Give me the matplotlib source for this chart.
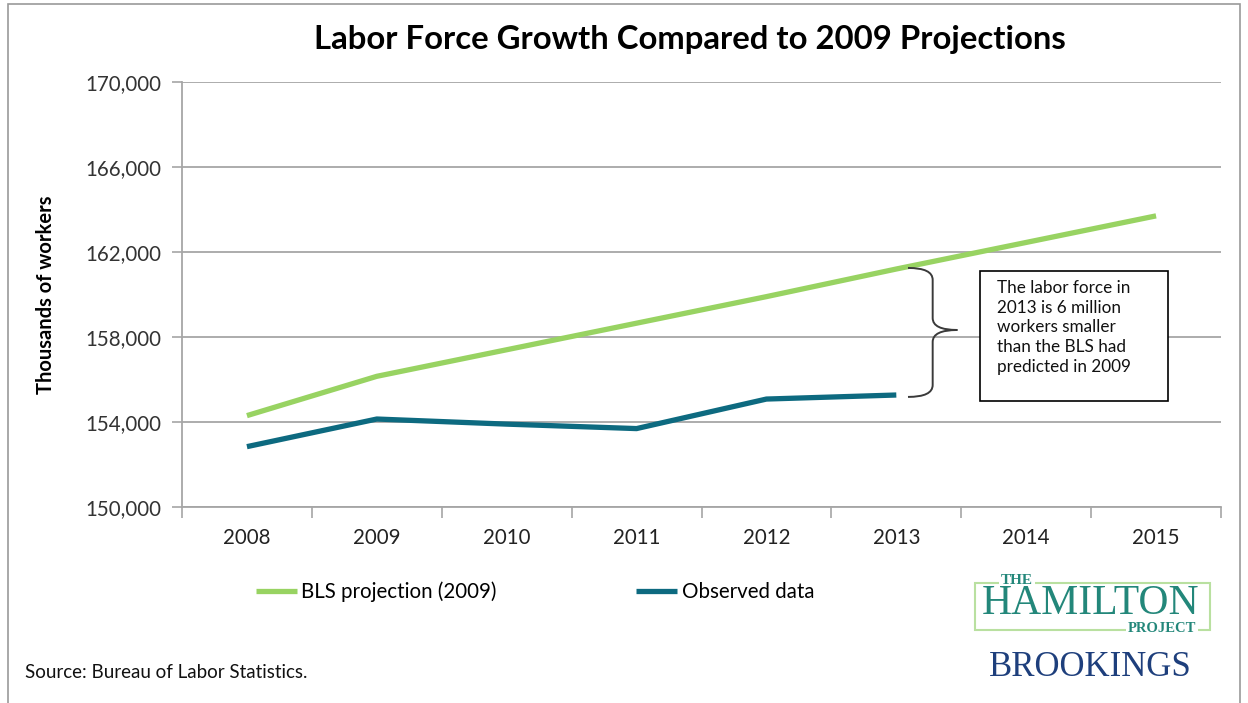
import matplotlib
matplotlib.use("Agg")
import matplotlib.pyplot as plt
import matplotlib.patches as patches
from matplotlib.path import Path
from matplotlib.ticker import FuncFormatter, FixedLocator

plt.rcParams['font.family'] = ['Lato', 'DejaVu Sans']

# ---------------- data (thousands of workers) ----------------
years = ['2008', '2009', '2010', '2011', '2012', '2013', '2014', '2015']
bls_projection = [154300, 156150, 157400, 158650, 159900, 161200, 162450, 163700]
observed_years = ['2008', '2009', '2010', '2011', '2012', '2013']
observed = [152840, 154140, 153900, 153690, 155080, 155270]
y_ticks = [150000, 154000, 158000, 162000, 166000, 170000]

green = '#98D362'
teal = '#0D6A80'
grid_col = '#A6A6A6'

fig = plt.figure(figsize=(12.48, 7.03), dpi=100)
ax = fig.add_axes([182/1248, 1-507/703, (1221-182)/1248, (507-82)/703])

x_bls = list(range(len(years)))
x_obs = [years.index(y) for y in observed_years]
ax.plot(x_bls, bls_projection, color=green, lw=3.8, solid_capstyle='butt',
        label='BLS projection (2009)', zorder=3)
ax.plot(x_obs, observed, color=teal, lw=3.8, solid_capstyle='butt',
        label='Observed data', zorder=3)

# axes styling
ax.set_xlim(-0.5, len(years) - 0.5)
ax.set_ylim(y_ticks[0], y_ticks[-1])
ax.set_yticks(y_ticks)
ax.yaxis.set_major_formatter(FuncFormatter(lambda v, p: '{:,.0f}'.format(v)))
ax.set_xticks(x_bls)
ax.set_xticklabels(years)
ax.xaxis.set_minor_locator(FixedLocator([i - 0.5 for i in range(len(years) + 1)]))
ax.tick_params(axis='x', which='major', length=0, pad=15, labelsize=14.8, colors='#222222')
ax.tick_params(axis='x', which='minor', length=8, width=1.2, color=grid_col)
ax.tick_params(axis='y', length=7, width=1.2, color=grid_col, pad=8,
               labelsize=14.8, labelcolor='#333333')
ax.grid(axis='y', color=grid_col, lw=1.3)
ax.set_axisbelow(True)
for s in ['top', 'right']:
    ax.spines[s].set_visible(False)
for s in ['left', 'bottom']:
    ax.spines[s].set_color(grid_col)
    ax.spines[s].set_linewidth(1.3)

ax.set_ylabel('Thousands of workers', fontsize=14.5, fontweight='bold', labelpad=21)

# brace between the two lines in 2013
bx0, bxv, bxt = 5.09, 5.28, 5.47
ytop, ybot, ytip = 161250, 155180, 158330
r = 560
verts = [(bx0, ytop), (bxv, ytop), (bxv, ytop - r),
         (bxv, ytip + r), (bxv, ytip), (bxt, ytip),
         (bxv, ytip), (bxv, ytip - r),
         (bxv, ybot + r), (bxv, ybot), (bx0, ybot)]
codes = [Path.MOVETO, Path.CURVE3, Path.CURVE3,
         Path.LINETO, Path.CURVE3, Path.CURVE3,
         Path.CURVE3, Path.CURVE3,
         Path.LINETO, Path.CURVE3, Path.CURVE3]
ax.add_patch(patches.PathPatch(Path(verts, codes), fill=False, ec='#3A3A3A', lw=1.4, zorder=4))

# annotation box
ax.add_patch(patches.Rectangle((0.768, 0.249), 0.181, 0.306, transform=ax.transAxes,
                               fc='white', ec='black', lw=1.2, zorder=5))
ax.text(0.784, 0.535, 'The labor force in\n2013 is 6 million\nworkers smaller\nthan the BLS had\npredicted in 2009',
        transform=ax.transAxes, ha='left', va='top', fontsize=12.3, linespacing=1.3,
        color='#111111', zorder=6)

# title
fig.text(690/1248, 1-40/703, 'Labor Force Growth Compared to 2009 Projections',
         ha='center', va='center', fontsize=23.7, fontweight='bold')

# legend
fig.legend(loc='center', bbox_to_anchor=(535/1248, 1-592/703), ncol=2, frameon=False,
           fontsize=14.8, handlelength=2.0, handletextpad=0.2, columnspacing=6.8)

# source
fig.text(25/1248, 1-672/703, 'Source: Bureau of Labor Statistics.', ha='left', va='center',
         fontsize=13.5, color='#111111')

# logos
serif = ['Liberation Serif', 'DejaVu Serif']
hm_col = '#23877A'
fig.add_artist(patches.Rectangle((975/1248, 1-630/703), 235/1248, 47/703,
                                 transform=fig.transFigure, fill=False, ec='#B9E0A0', lw=1.5))
fig.text(1017/1248, 1-580/703, 'THE', ha='center', va='center', fontsize=11,
         fontweight='bold', color=hm_col, family=serif,
         bbox=dict(fc='white', ec='none', pad=1.5))
fig.text(1091/1248, 1-604/703, 'HAMILTON', ha='center', va='center', fontsize=30,
         color=hm_col, family=serif)
fig.text(1162/1248, 1-629/703, 'PROJECT', ha='center', va='center', fontsize=10.5,
         fontweight='bold', color=hm_col, family=serif,
         bbox=dict(fc='white', ec='none', pad=1.5))
fig.text(1090/1248, 1-667/703, 'BROOKINGS', ha='center', va='center', fontsize=25,
         color='#1E3F7C', family=serif)

# outer frame
fig.add_artist(patches.Rectangle((8/1248, -0.01), 1232/1248, 1 - 4/703 + 0.01,
                                 transform=fig.transFigure, fill=False, ec='#9A9A9A', lw=1.2))

fig.savefig('out.png', dpi=100, facecolor='white')
